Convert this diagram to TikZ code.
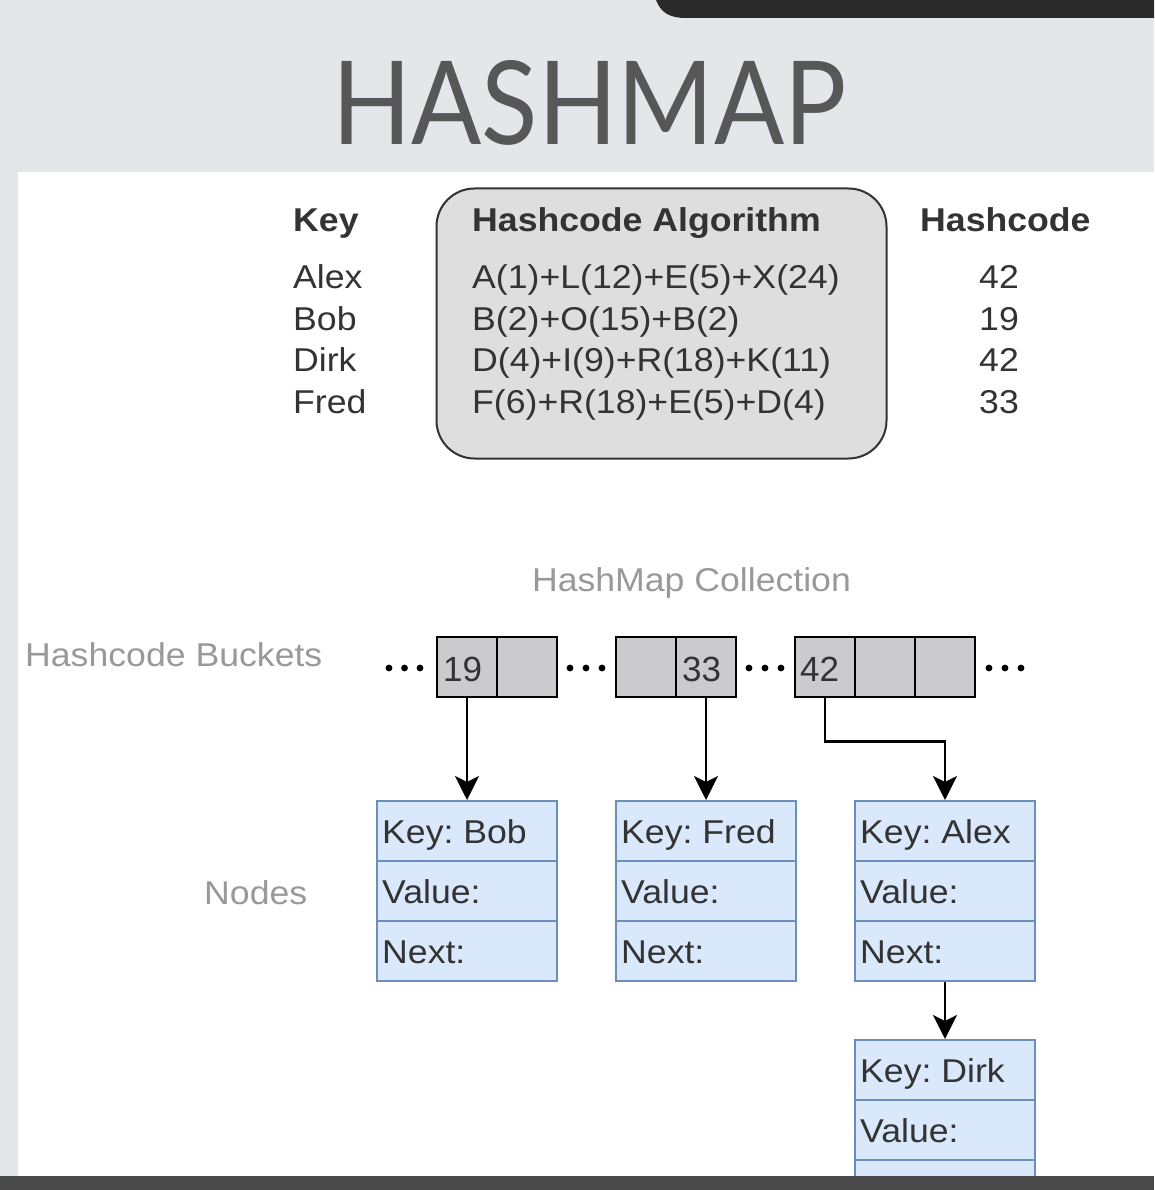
\documentclass[tikz,border=0pt]{standalone}
\usepackage{fontspec}
\setmainfont{Liberation Sans}[FakeStretch=1.08]
\newfontfamily\titlefont{Lato}
\newfontfamily\digitfont{Liberation Sans}
\usepackage{graphicx}
\usetikzlibrary{arrows.meta}
\definecolor{slidebg}{HTML}{E4E6EA}
\definecolor{topbar}{HTML}{2A2A2A}
\definecolor{botbar}{HTML}{4A4A4A}
\definecolor{titlecol}{HTML}{575757}
\definecolor{txtcol}{HTML}{333333}
\definecolor{lblcol}{HTML}{999999}
\definecolor{algofill}{HTML}{DEDEDE}
\definecolor{bucketfill}{HTML}{CBCBCD}
\definecolor{nodefill}{HTML}{DAE8FC}
\definecolor{nodeline}{HTML}{6C8EBF}
\frenchspacing
\begin{document}
\begin{tikzpicture}[x=1pt,y=-1pt,
  txt/.style={anchor=base west, inner sep=0pt, text=txtcol, font=\fontsize{33pt}{40pt}\selectfont},
  txtc/.style={txt, anchor=base},
  btxt/.style={txt, font=\fontsize{33pt}{40pt}\selectfont\bfseries},
  dtxt/.style={txt, font=\fontsize{35pt}{40pt}\digitfont},
  lbl/.style={txt, text=lblcol},
  algobox/.style={draw=txtcol, fill=algofill, line width=2pt, rounded corners=38pt,
    minimum width=450pt, minimum height=270pt, inner sep=0pt},
  bucket/.style={draw=black, fill=bucketfill, line width=2.5pt, minimum width=60pt,
    minimum height=60pt, inner sep=0pt},
  cellbox/.style={draw=nodeline, fill=nodefill, line width=2pt, minimum width=180pt,
    minimum height=60pt, inner sep=0pt},
  arr/.style={draw=black, line width=2.5pt, -{Stealth[length=24pt,width=24pt,inset=6pt]}},
  dotc/.style={fill=black}
]
\useasboundingbox (0,0) rectangle (1154,1190);
\clip (0,0) rectangle (1154,1190);
% slide background
\fill[slidebg] (0,0) rectangle (1154,1190);
\fill[white] (18,172) rectangle (1154,1176);
\fill[topbar] (656,0) .. controls (661,13) and (670,18) .. (686,18) -- (1154,18) -- (1154,0) -- cycle;
% title
\node[anchor=south west, inner sep=0pt, text=titlecol] (title) at (332,146)
  {\resizebox{514pt}{84pt}{\titlefont HASHMAP}};
% hashcode table
\node[algobox] (algo) at (661.5,323.5) {};
\node[btxt] (keyh) at (293,231.5) {Key};
\node[btxt] (algh) at (472,231.5) {Hashcode Algorithm};
\node[btxt] (hch) at (920,231.5) {Hashcode};
\node[txt] (k1) at (293,288.3) {Alex};
\node[txt] (k2) at (293,330) {Bob};
\node[txt] (k3) at (293,371.7) {Dirk};
\node[txt] (k4) at (293,413.3) {Fred};
\node[txt] (f1) at (472,288.3) {A(1)+L(12)+E(5)+X(24)};
\node[txt] (f2) at (472,330) {B(2)+O(15)+B(2)};
\node[txt] (f3) at (472,371.7) {D(4)+I(9)+R(18)+K(11)};
\node[txt] (f4) at (472,413.3) {F(6)+R(18)+E(5)+D(4)};
\node[txtc] (h1) at (999,288.3) {42};
\node[txtc] (h2) at (999,330) {19};
\node[txtc] (h3) at (999,371.7) {42};
\node[txtc] (h4) at (999,413.3) {33};
% labels
\node[lbl, anchor=base] (coll) at (691.5,591) {HashMap Collection};
\node[lbl] (buckl) at (25,666) {Hashcode Buckets};
\node[lbl] (nodesl) at (204,904) {Nodes};
% buckets
\node[bucket] (b19) at (467,667) {};
\node[bucket] (b19e) at (527,667) {};
\node[bucket] (b33e) at (646,667) {};
\node[bucket] (b33) at (706,667) {};
\node[bucket] (b42) at (825,667) {};
\node[bucket] (b42e) at (885,667) {};
\node[bucket] (b42f) at (945,667) {};
\node[dtxt] (t19) at (443,681) {19};
\node[dtxt] (t33) at (682,681) {33};
\node[dtxt] (t42) at (800,681) {42};
% dots
\foreach \x in {389,404.5,420, 570,586,602, 749,765,781, 989,1005,1021}
  \fill[dotc] (\x,668) circle (3.4pt);
% nodes
\foreach \nm/\cx/\cy/\k in {bob/467/831/Bob, fred/706/831/Fred, alex/945/831/Alex, dirk/945/1070/Dirk}{
  \node[cellbox] (\nm1) at (\cx,\cy) {};
  \node[cellbox] (\nm2) at (\cx,\cy+60) {};
  \node[cellbox] (\nm3) at (\cx,\cy+120) {};
  \node[txt] at ([xshift=6pt,yshift=-12pt]\nm1.west) {Key: \k};
  \node[txt] at ([xshift=6pt,yshift=-12pt]\nm2.west) {Value:};
  \node[txt] at ([xshift=6pt,yshift=-12pt]\nm3.west) {Next:};
}
% connectors
\draw[arr] (b19.south) -- (bob1.north);
\draw[arr] (b33.south) -- (fred1.north);
\draw[arr] (b42.south) -- ++(0,43) -| (alex1.north);
\draw[arr] (alex3.south) -- (dirk1.north);
% bottom bar
\fill[botbar] (0,1176) rectangle (1154,1190);
\end{tikzpicture}
\end{document}
